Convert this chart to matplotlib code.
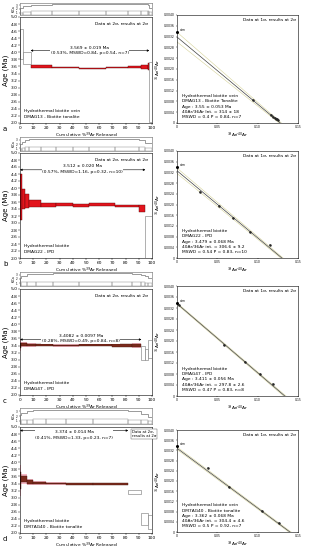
import numpy as np
import matplotlib.pyplot as plt
from matplotlib.patches import Rectangle

# ---- age spectra: cumulative % 39Ar boundaries, step ages and 2s errors (Ma)
a_cum = [0, 2.5, 8, 24, 45, 65, 82, 92, 97, 98, 100]
a_age = [4.24, 3.85, 3.61, 3.57, 3.55, 3.57, 3.59, 3.58, 3.60, 2.87]
a_err = [0.42, 0.17, 0.04, 0.02, 0.02, 0.02, 0.03, 0.05, 0.10, 0.85]
a_plat = [2, 8]

b_cum = [0, 1.5, 4, 7, 16, 27, 40, 52, 72, 90, 95, 100]
b_age = [3.75, 3.68, 3.62, 3.55, 3.52, 3.52, 3.51, 3.53, 3.49, 3.42, 2.60]
b_err = [0.65, 0.28, 0.20, 0.10, 0.05, 0.04, 0.04, 0.03, 0.03, 0.10, 0.60]
b_plat = [0, 9]

c_cum = [0, 1, 5, 12, 25, 45, 70, 85, 92, 95, 97, 100]
c_age = [3.40, 3.42, 3.41, 3.41, 3.40, 3.41, 3.40, 3.40, 3.20, 3.15, 3.30]
c_err = [0.08, 0.04, 0.03, 0.02, 0.02, 0.02, 0.03, 0.04, 0.20, 0.15, 0.25]
c_plat = [0, 7]

d_cum = [0, 1, 5, 10, 20, 35, 55, 82, 92, 97, 100]
d_age = [3.48, 3.52, 3.45, 3.42, 3.40, 3.39, 3.39, 3.15, 2.40, 2.30]
d_err = [0.24, 0.08, 0.05, 0.03, 0.02, 0.02, 0.02, 0.06, 0.17, 0.20]
d_plat = [0, 6]

# K/Ca strip (relative), one value per step
a_kca = [0.55, 0.72, 0.85, 0.88, 0.90, 0.90, 0.90, 0.88, 0.85, 0.60]
b_kca = [0.50, 0.62, 0.75, 0.85, 0.88, 0.88, 0.88, 0.86, 0.84, 0.80, 0.55]
c_kca = [0.60, 0.75, 0.85, 0.88, 0.90, 0.90, 0.90, 0.88, 0.80, 0.70, 0.55]
d_kca = [0.55, 0.70, 0.80, 0.86, 0.90, 0.90, 0.88, 0.80, 0.65, 0.45]

plat_label = ["3.569 ± 0.019 Ma\n(0.53%, MSWD=0.84, p=0.54, n=7)",
              "3.512 ± 0.020 Ma\n(0.57%, MSWD=1.16, p=0.32, n=10)",
              "3.4082 ± 0.0097 Ma\n(0.28%, MSWD=0.49, p=0.84, n=8)",
              "3.374 ± 0.014 Ma\n(0.41%, MSWD=1.33, p=0.23, n=7)"]
sample_label = ["Hydrothermal biotite vein\nDMAG13 - Biotite tonalite",
                "Hydrothermal biotite\nDMAG22 - IPD",
                "Hydrothermal biotite\nDMAG47 - IPD",
                "Hydrothermal biotite\nDM7AG40 - Biotite tonalite"]

# ---- isochrons: 39Ar/40Ar, 36Ar/40Ar points
a_ix = [0.094, 0.116, 0.119, 0.121, 0.123, 0.124, 0.125]
a_iy = [0.00086, 0.00030, 0.00024, 0.00020, 0.00016, 0.00014, 0.00012]
b_ix = [0.029, 0.052, 0.070, 0.091, 0.115]
b_iy = [0.00246, 0.00193, 0.00148, 0.00098, 0.00049]
c_ix = [0.0025, 0.0586, 0.0844, 0.103, 0.119]
c_iy = [0.00330, 0.00185, 0.00125, 0.00081, 0.00044]
d_ix = [0.038, 0.065, 0.105, 0.126]
d_iy = [0.00250, 0.00178, 0.00083, 0.00035]

iso_int = [1 / 314, 1 / 306.6, 1 / 297.8, 1 / 304.4]
iso_int_err = [0.00018, 0.0001, 0.00003, 0.00005]
iso_xint = [0.128, 0.130, 0.1336, 0.140]
iso_label = ["Hydrothermal biotite vein\nDMAG13 - Biotite Tonalite\nAge : 3.55 ± 0.053 Ma\n40Ar/36Ar Int. = 314 ± 18\nMSWD = 0.4 P = 0.84, n=7",
             "Hydrothermal biotite\nDMAG22 - IPD\nAge : 3.479 ± 0.068 Ma\n40Ar/36Ar int. = 306.6 ± 9.2\nMSWD = 0.54 P = 0.83, n=10",
             "Hydrothermal biotite\nDMAG47 - IPD\nAge : 3.411 ± 0.056 Ma\n40Ar/36Ar int. = 297.8 ± 2.6\nMSWD = 0.47 P = 0.83, n=8",
             "Hydrothermal biotite vein\nDM7AG40 - Biotite tonalite\nAge : 3.362 ± 0.068 Ma\n40Ar/36Ar int. = 304.4 ± 4.6\nMSWD = 0.5 P = 0.92, n=7"]

W, H = 309, 550


def px(x0, y0, x1, y1):
    return [x0 / W, 1 - y1 / H, (x1 - x0) / W, (y1 - y0) / H]


fig = plt.figure(figsize=(W / 100, H / 100), dpi=100)
plt.rcParams['font.family'] = 'DejaVu Sans'

rows = [
    dict(cum=a_cum, age=a_age, err=a_err, plat=a_plat, kca=a_kca, ix=a_ix, iy=a_iy,
         strip=(3, 15), main=(17, 123), iso=(15, 123), arrow=4.05, txt=4.05, dark=False),
    dict(cum=b_cum, age=b_age, err=b_err, plat=b_plat, kca=b_kca, ix=b_ix, iy=b_iy,
         strip=(137, 151), main=(153, 258), iso=(151, 258), arrow=4.52, txt=4.55, dark=False),
    dict(cum=c_cum, age=c_age, err=c_err, plat=c_plat, kca=c_kca, ix=c_ix, iy=c_iy,
         strip=(272, 286), main=(289, 395), iso=(286, 396), arrow=3.57, txt=3.6, dark=True),
    dict(cum=d_cum, age=d_age, err=d_err, plat=d_plat, kca=d_kca, ix=d_ix, iy=d_iy,
         strip=(408, 424), main=(427, 533), iso=(430, 532), arrow=4.9, txt=4.78, dark=True),
]
letters = ['a', 'b', 'c', 'd']
fs = 3.2

for i, r in enumerate(rows):
    cum = np.array(r['cum'])
    age = np.array(r['age'])
    err = np.array(r['err'])
    p0, p1 = r['plat']

    # K/Ca strip
    ks = fig.add_axes(px(20, r['strip'][0], 152, r['strip'][1]))
    ks.stairs(r['kca'], cum, color='0.45', lw=0.5)
    ks.bar(cum[:-1], np.array(r['kca']) * 0.35, width=np.diff(cum), align='edge',
           fill=False, edgecolor='0.55', lw=0.35)
    ks.set_xlim(0, 100)
    ks.set_ylim(0, 1)
    ks.set_xticks([])
    ks.set_yticks([0.2, 0.5, 0.8])
    ks.set_yticklabels(['1', '2', '3'], fontsize=2)
    ks.set_ylabel('K/Ca', fontsize=2.2, labelpad=0.5)
    ks.tick_params(length=1, width=0.3, pad=0.5)
    for s in ks.spines.values():
        s.set_linewidth(0.4)
        s.set_color('0.4')

    # age spectrum
    ax = fig.add_axes(px(20, r['main'][0], 152, r['main'][1]))
    for j in range(len(age)):
        x0, w = cum[j], cum[j + 1] - cum[j]
        if p0 <= j <= p1:
            if r['dark']:
                ax.add_patch(Rectangle((x0, age[j] - err[j] * 1.8), w, err[j] * 3.6,
                                       facecolor='#f7b9c6', edgecolor='none', zorder=1))
                ax.add_patch(Rectangle((x0, age[j] - err[j]), w, 2 * err[j],
                                       facecolor='#7b2a1c', edgecolor='#4a1a10', lw=0.3, zorder=2))
            else:
                ax.add_patch(Rectangle((x0, age[j] - err[j]), w, 2 * err[j],
                                       facecolor='#e3141c', edgecolor='#5a0a0a', lw=0.3, zorder=2))
        else:
            ax.add_patch(Rectangle((x0, age[j] - err[j]), w, 2 * err[j],
                                   facecolor='white', edgecolor='0.45', lw=0.4, zorder=2))
    ax.set_xlim(0, 100)
    ax.set_ylim(2.0, 5.0)
    ax.set_xticks(np.arange(0, 101, 10))
    ax.set_yticks(np.arange(2.0, 5.01, 0.2))
    ax.set_yticklabels([f'{v:.1f}' for v in np.arange(2.0, 5.01, 0.2)])
    ax.tick_params(labelsize=fs, length=1.2, width=0.3, pad=0.8)
    ax.set_ylabel('Age (Ma)', fontsize=5, labelpad=1)
    ax.set_xlabel('Cumulative %$^{39}$Ar Released', fontsize=fs, labelpad=0.8)
    for s in ax.spines.values():
        s.set_linewidth(0.4)

    xa, xb = cum[p0], cum[p1 + 1]
    ax.annotate('', xy=(xa, r['arrow']), xytext=(xb, r['arrow']),
                arrowprops=dict(arrowstyle='<|-|>', lw=0.4, color='k',
                                mutation_scale=3, shrinkA=0, shrinkB=0))
    ax.text((xa + xb) / 2, r['txt'], plat_label[i], fontsize=fs, ha='center',
            va='center', linespacing=1.5,
            bbox=dict(facecolor='white', edgecolor='none', pad=0.3))
    if i < 3:
        ax.text(97, 4.8, 'Data at 2σ, results at 2σ', fontsize=fs, ha='right', va='center')
    else:
        ax.text(85, 4.8, 'Data at 2σ,\nresults at 2σ', fontsize=fs - 0.4, ha='left', va='center',
                bbox=dict(facecolor='white', edgecolor='0.3', lw=0.3, pad=0.6))
    ax.text(3, 2.12, sample_label[i], fontsize=fs, ha='left', va='bottom', linespacing=1.5)

    fig.text(3 / W, 1 - (r['main'][1] + 6) / H, letters[i], fontsize=5, ha='left', va='center')

    # isochron
    ia = fig.add_axes(px(177, r['iso'][0], 298, r['iso'][1]))
    b0, db, xi = iso_int[i], iso_int_err[i], iso_xint[i]
    xx = np.linspace(0, 0.15, 100)
    ia.plot(xx, b0 * (1 - xx / xi), color='0.25', lw=0.5, zorder=3)
    ia.plot(xx, (b0 + db) * (1 - xx / (xi + 0.0015)), color='#d6d39a', lw=0.4, zorder=2)
    ia.plot(xx, (b0 - db) * (1 - xx / (xi - 0.0015)), color='#d6d39a', lw=0.4, zorder=2)
    ia.errorbar(r['ix'], r['iy'], xerr=0.0012, yerr=0.00004, fmt='o', ms=0.8,
                color='0.15', elinewidth=0.3, zorder=4)
    ia.plot([0], [1 / 295.5], 'o', ms=1.2, color='k', zorder=5, clip_on=False)
    ia.text(0.003, 1 / 295.5, 'atm', fontsize=2.2, va='bottom')
    ia.set_xlim(0, 0.15)
    ia.set_ylim(0, 0.004)
    ia.set_xticks([0, 0.05, 0.10, 0.15])
    ia.set_xticklabels(['0', '0.05', '0.10', '0.15'])
    yt = np.arange(0, 0.00401, 0.0004)
    ia.set_yticks(yt)
    ia.set_yticklabels(['0'] + [f'{v:.4f}' for v in yt[1:]])
    ia.tick_params(labelsize=2.2, length=1.0, width=0.3, pad=0.6)
    ia.set_xlabel('$^{39}$Ar/$^{40}$Ar', fontsize=fs, labelpad=0.8)
    ia.set_ylabel('$^{36}$Ar/$^{40}$Ar', fontsize=fs, labelpad=0.8)
    ia.text(0.147, 0.0038, 'Data at 1σ, results at 2σ', fontsize=fs, ha='right', va='center')
    ia.text(0.006, 0.00015, iso_label[i], fontsize=fs, ha='left', va='bottom', linespacing=1.4)
    for s in ia.spines.values():
        s.set_linewidth(0.4)

fig.savefig('out.png', dpi=100)
